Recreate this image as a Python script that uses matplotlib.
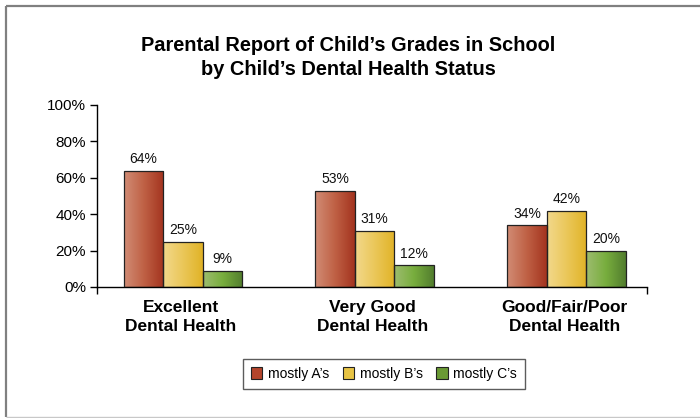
import numpy as np
import matplotlib
matplotlib.use("Agg")
import matplotlib.pyplot as plt
from matplotlib.patches import Patch
from matplotlib.lines import Line2D
from matplotlib.colors import LinearSegmentedColormap

plt.rcParams['font.family'] = ['Liberation Sans', 'DejaVu Sans']

categories = ["Excellent\nDental Health", "Very Good\nDental Health", "Good/Fair/Poor\nDental Health"]
series_names = ["mostly A\u2019s", "mostly B\u2019s", "mostly C\u2019s"]
mostly_A = [64, 53, 34]
mostly_B = [25, 31, 42]
mostly_C = [9, 12, 20]
yticks = [0, 20, 40, 60, 80, 100]
ytick_labels = ["0%", "20%", "40%", "60%", "80%", "100%"]
title = "Parental Report of Child\u2019s Grades in School\nby Child\u2019s Dental Health Status"

grad_colors = [
    [(0.82, 0.55, 0.46), (0.75, 0.38, 0.27), (0.64, 0.20, 0.12)],
    [(0.95, 0.85, 0.55), (0.92, 0.78, 0.35), (0.88, 0.70, 0.15)],
    [(0.62, 0.74, 0.44), (0.47, 0.68, 0.24), (0.32, 0.49, 0.18)],
]
legend_colors = ["#b4452c", "#e8c444", "#6a9a34"]

fig = plt.figure(figsize=(7.0, 4.18), dpi=100)
fig.patch.set_facecolor("white")
fig.patch.set_edgecolor("none")
fig.patch.set_linewidth(0)
W, H = 700, 418
ax = fig.add_axes([97 / W, 1 - 287 / H, 550 / W, 182 / H])

x = np.arange(len(categories))
bw = 0.206
values = [mostly_A, mostly_B, mostly_C]
offsets = [-bw, 0, bw]

for si, (vals, off) in enumerate(zip(values, offsets)):
    cmap = LinearSegmentedColormap.from_list(f"g{si}", grad_colors[si])
    grad = np.linspace(0, 1, 256).reshape(1, -1)
    bars = ax.bar(x + off, vals, width=bw, facecolor="none",
                  edgecolor="#222222", linewidth=0.9, zorder=3)
    for b, v in zip(bars, vals):
        x0 = b.get_x()
        im = ax.imshow(grad, cmap=cmap, aspect="auto",
                       extent=(x0, x0 + bw, 0, v), zorder=2)
        im.set_clip_path(b)
        ax.text(x0 + bw / 2, v + 2.5, f"{v}%", ha="center", va="bottom",
                fontsize=10, color="#111111", zorder=4)

ax.set_xlim(-0.448, 2.42)
ax.set_ylim(0, 100)

ax.spines["top"].set_visible(False)
ax.spines["right"].set_visible(False)
ax.spines["left"].set_linewidth(1.0)
ax.spines["bottom"].set_linewidth(1.0)

ax.set_yticks(yticks)
ax.set_yticklabels(ytick_labels, fontsize=11)
ax.tick_params(axis="y", direction="out", length=5, width=1, pad=3)

ax.set_xticks([-0.448, 2.42])
ax.set_xticklabels(["", ""])
ax.tick_params(axis="x", direction="out", length=5, width=1)
for xi, lab in zip(x, categories):
    ax.text(xi - 0.01, -7, lab, ha="center", va="top", fontsize=12.5,
            fontweight="bold", transform=ax.transData, linespacing=1.38)

fig.text(348 / W, 1 - 57.5 / H, title, ha="center", va="center",
         fontsize=14.4, fontweight="bold", linespacing=1.32)

handles = [Patch(facecolor=c, edgecolor="#222222", linewidth=0.8) for c in legend_colors]
leg = fig.legend(handles, series_names, loc="center", bbox_to_anchor=(384 / W, 1 - 374 / H),
                 ncol=3, fontsize=10, frameon=True, fancybox=False, edgecolor="#333333",
                 handlelength=0.8, handleheight=0.9, handletextpad=0.4, columnspacing=1.0,
                 borderpad=0.55)
leg.get_frame().set_linewidth(1.0)

bx0, by0, by1 = 5.5 / W, 1 - 416.5 / H, 1 - 5.5 / H
fig.add_artist(Line2D([bx0, 1.01], [by1, by1], transform=fig.transFigure, color="#808080",
                      linewidth=1.6, solid_capstyle="butt"))
fig.add_artist(Line2D([bx0, bx0], [by0, by1], transform=fig.transFigure, color="#808080",
                      linewidth=1.6, solid_capstyle="butt"))
fig.add_artist(Line2D([bx0, 1.01], [by0, by0], transform=fig.transFigure, color="#c8c8c8",
                      linewidth=1.0, solid_capstyle="butt"))

fig.savefig("out.png", dpi=100, facecolor="white", edgecolor="none")
